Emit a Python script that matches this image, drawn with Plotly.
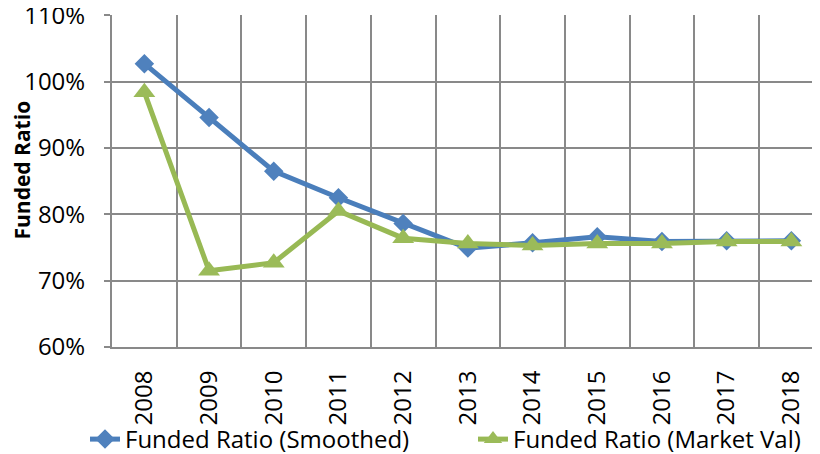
import plotly.graph_objects as go

years = ["2008", "2009", "2010", "2011", "2012", "2013", "2014", "2015", "2016", "2017", "2018"]
smoothed = [102.7, 94.6, 86.5, 82.5, 78.6, 74.9, 75.7, 76.6, 75.9, 76.0, 76.0]
market = [98.4, 71.5, 72.7, 80.5, 76.4, 75.6, 75.3, 75.6, 75.6, 75.9, 75.9]
series_names = ["Funded Ratio (Smoothed)", "Funded Ratio (Market Val)"]
yticks = [60, 70, 80, 90, 100, 110]
ytick_labels = ["60%", "70%", "80%", "90%", "100%", "110%"]

BLUE = "#4A7EBB"
GREEN = "#98B954"
GRID = "#898989"
FONT = "Open Sans"

# page body has an 8px default margin: figure origin sits at (8, 8) in the window
ML, MT, MB = 104, 7, 115
PW = 820 - ML
PH = 454 - MT - MB

fig = go.Figure()
fig.add_trace(go.Scatter(
    x=years, y=smoothed, name=series_names[0], mode="lines+markers",
    line=dict(color=BLUE, width=5),
    marker=dict(symbol="diamond", size=15, color="#4F81BD"),
    legend="legend",
))
fig.add_trace(go.Scatter(
    x=years, y=market, name=series_names[1], mode="lines+markers",
    line=dict(color=GREEN, width=5),
    marker=dict(symbol="triangle-up", size=19, color="#9BBB59"),
    legend="legend2",
))

legend_common = dict(
    orientation="h", yanchor="bottom", y=(PH + MT - 454) / PH,
    font=dict(family=FONT, size=24, color="black"),
    bgcolor="rgba(0,0,0,0)", itemclick=False, xanchor="left",
)

fig.update_layout(
    width=820, height=454,
    margin=dict(l=ML, r=0, t=MT, b=MB),
    paper_bgcolor="white", plot_bgcolor="white",
    font=dict(family=FONT, color="black"),
    showlegend=True,
    legend=dict(x=(77 - ML) / PW, **legend_common),
    legend2=dict(x=(465 - ML) / PW, **legend_common),
    annotations=[dict(
        text="<b>Funded Ratio</b>", textangle=-90, showarrow=False,
        xref="paper", yref="paper", x=(13.5 - ML) / PW, y=(MT + PH - 162) / PH,
        xanchor="center", yanchor="middle",
        font=dict(family=FONT, size=21, color="black"),
    )],
)

fig.update_xaxes(
    type="category", range=[-0.5, -0.5 + PW / 64.7], tickson="boundaries",
    showgrid=True, gridcolor=GRID, gridwidth=2,
    showline=True, linecolor=GRID, linewidth=2,
    ticks="", tickangle=-90, ticklabelstandoff=12,
    tickfont=dict(family=FONT, size=24, color="black"),
    automargin=False, fixedrange=True,
)
fig.update_yaxes(
    range=[60, 110.03], tickvals=yticks, ticktext=ytick_labels,
    showgrid=True, gridcolor=GRID, gridwidth=2,
    showline=True, linecolor=GRID, linewidth=2,
    ticks="outside", ticklen=6, tickcolor=GRID, tickwidth=2,
    ticklabelstandoff=14, zeroline=False, ticklabeloverflow="allow",
    tickfont=dict(family=FONT, size=24, color="black"),
    automargin=False, fixedrange=True,
)

fig.write_html("out.html")
